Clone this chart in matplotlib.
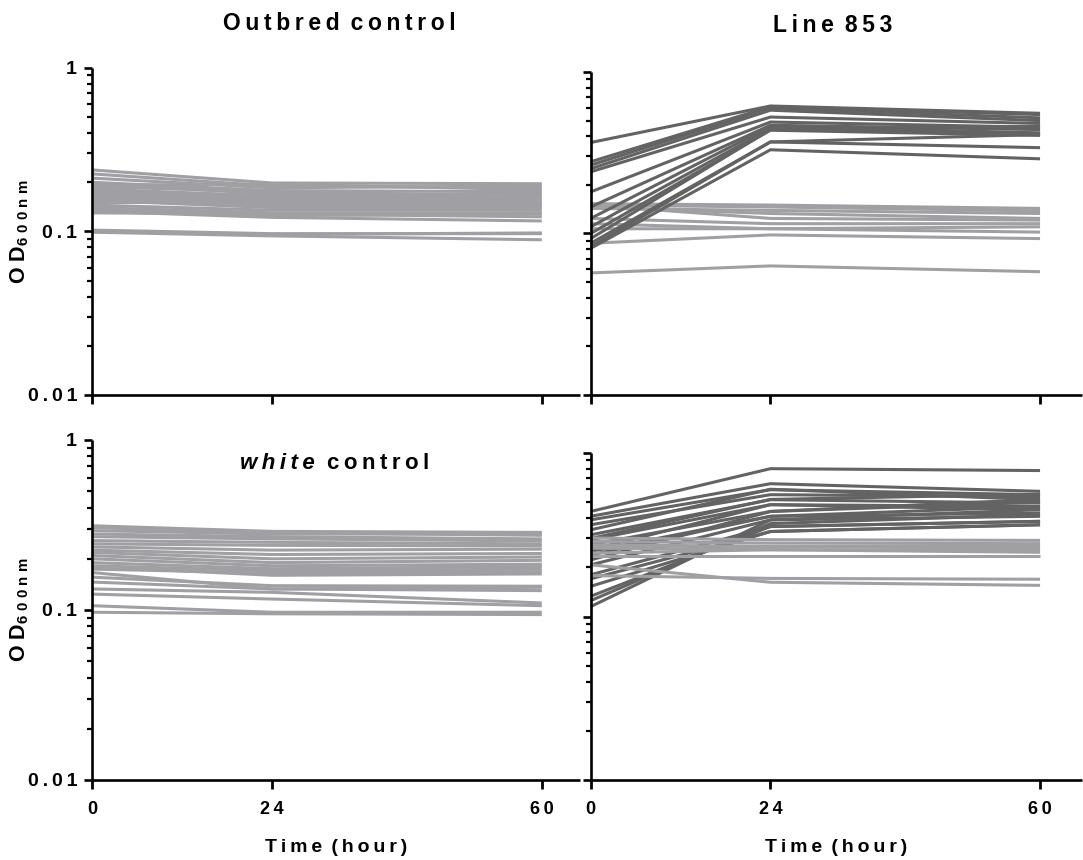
import matplotlib
matplotlib.use("Agg")
import matplotlib.pyplot as plt
from matplotlib.ticker import LogLocator, FixedLocator, FixedFormatter, NullFormatter

# ---------------------------------------------------------------- data
hours = [0, 24, 60]
xtick_labels = ["0", "24", "60"]
ytick_values = [0.01, 0.1, 1]
ytick_labels = ["0.01", "0.1", "1"]

# OD600 per culture at 0, 24 and 60 h
outbred = [
    (0.238, 0.198, 0.196), (0.225, 0.190, 0.185), (0.212, 0.185, 0.190),
    (0.200, 0.178, 0.175), (0.195, 0.170, 0.168), (0.188, 0.175, 0.165),
    (0.182, 0.165, 0.160), (0.176, 0.160, 0.155), (0.170, 0.155, 0.150),
    (0.165, 0.150, 0.148), (0.160, 0.145, 0.143), (0.155, 0.140, 0.140),
    (0.150, 0.152, 0.145), (0.145, 0.135, 0.135), (0.140, 0.130, 0.130),
    (0.137, 0.125, 0.128), (0.133, 0.122, 0.116), (0.130, 0.128, 0.123),
    (0.172, 0.160, 0.170), (0.192, 0.195, 0.180), (0.101, 0.096, 0.098),
    (0.099, 0.094, 0.089), (0.102, 0.097, 0.097),
]

line853_low = [
    (0.153, 0.150, 0.143), (0.150, 0.146, 0.138), (0.146, 0.133, 0.124),
    (0.143, 0.139, 0.133), (0.150, 0.124, 0.121), (0.124, 0.115, 0.115),
    (0.115, 0.107, 0.110), (0.107, 0.107, 0.102), (0.087, 0.098, 0.093),
    (0.057, 0.063, 0.058),
]
line853_high = [
    (0.366, 0.616, 0.555), (0.278, 0.610, 0.545), (0.265, 0.600, 0.520),
    (0.252, 0.580, 0.500), (0.241, 0.526, 0.480), (0.181, 0.490, 0.455),
    (0.146, 0.468, 0.440), (0.124, 0.460, 0.420), (0.110, 0.446, 0.460),
    (0.100, 0.436, 0.405), (0.093, 0.440, 0.415), (0.087, 0.369, 0.410),
    (0.083, 0.369, 0.340), (0.081, 0.330, 0.290),
]

white = [
    (0.313, 0.290, 0.286), (0.305, 0.285, 0.275), (0.293, 0.280, 0.280),
    (0.280, 0.270, 0.262), (0.270, 0.262, 0.255), (0.256, 0.250, 0.245),
    (0.245, 0.240, 0.238), (0.235, 0.225, 0.228), (0.225, 0.212, 0.215),
    (0.218, 0.200, 0.205), (0.209, 0.190, 0.196), (0.200, 0.182, 0.186),
    (0.190, 0.175, 0.180), (0.182, 0.170, 0.174), (0.174, 0.165, 0.168),
    (0.166, 0.133, 0.136), (0.156, 0.139, 0.138), (0.146, 0.133, 0.130),
    (0.133, 0.127, 0.110), (0.124, 0.116, 0.106), (0.106, 0.097, 0.097),
    (0.097, 0.095, 0.094), (0.180, 0.160, 0.163),
]

line853b_high = [
    (0.439, 0.802, 0.781), (0.410, 0.649, 0.583), (0.390, 0.596, 0.556),
    (0.364, 0.556, 0.540), (0.339, 0.600, 0.518), (0.316, 0.518, 0.494),
    (0.295, 0.483, 0.471), (0.275, 0.439, 0.520), (0.256, 0.483, 0.450),
    (0.238, 0.410, 0.429), (0.222, 0.439, 0.500), (0.207, 0.390, 0.410),
    (0.180, 0.355, 0.382), (0.153, 0.331, 0.364), (0.133, 0.355, 0.382),
    (0.115, 0.390, 0.450), (0.250, 0.410, 0.471), (0.300, 0.520, 0.560),
    (0.170, 0.331, 0.364), (0.125, 0.370, 0.420),
]
line853b_low = [
    (0.302, 0.295, 0.292), (0.288, 0.281, 0.279), (0.275, 0.268, 0.268),
    (0.262, 0.256, 0.256), (0.244, 0.256, 0.247), (0.233, 0.233, 0.233),
    (0.207, 0.162, 0.155), (0.178, 0.171, 0.169), (0.270, 0.268, 0.262),
]

# ---------------------------------------------------------------- style
LIGHT = "#a0a0a4"
DARK = "#636363"
FAM = ["Liberation Sans", "DejaVu Sans"]
TS = "\u2009"  # thin space used as letter spacing
WORD_GAP = TS + " "

plt.rcParams["font.family"] = FAM
plt.rcParams["font.weight"] = "bold"
plt.rcParams["mathtext.fontset"] = "custom"
plt.rcParams["mathtext.rm"] = "Liberation Sans:bold"
plt.rcParams["mathtext.bf"] = "Liberation Sans:bold"


def spaced(s):
    """Letter-spaced version of s with a wider gap between words."""
    return WORD_GAP.join(TS.join(word) for word in s.split(" "))


W, H = 1083, 860
fig = plt.figure(figsize=(W / 100, H / 100), dpi=100)


def rect(x0, x1, ytop, ybot):
    return [x0 / W, 1 - ybot / H, (x1 - x0) / W, (ybot - ytop) / H]


ax_tl = fig.add_axes(rect(92.3, 580, 68, 395))
ax_tr = fig.add_axes(rect(590.7, 1082, 72, 395))
ax_bl = fig.add_axes(rect(92.3, 580, 440, 780))
ax_br = fig.add_axes(rect(590.7, 1082, 453, 780))

OD_LABEL = r"$\mathbf{O\;D}_{\mathbf{6\;0\;0\;n\;m}}$"


def style(ax, xmax, show_x, show_y):
    ax.set_yscale("log")
    ax.set_ylim(0.01, 1)
    ax.set_xlim(0, xmax)
    for s in ("top", "right"):
        ax.spines[s].set_visible(False)
    for s in ("left", "bottom"):
        ax.spines[s].set_linewidth(1.9)
        ax.spines[s].set_capstyle("butt")
    ax.xaxis.set_major_locator(FixedLocator(hours))
    ax.yaxis.set_major_locator(FixedLocator(ytick_values))
    ax.yaxis.set_minor_locator(LogLocator(base=10, subs=range(2, 10)))
    ax.yaxis.set_minor_formatter(NullFormatter())
    ax.tick_params(axis="x", which="major", direction="out", length=6.5,
                   width=2.0, pad=8.5, labelsize=13)
    ax.tick_params(axis="y", which="major", direction="out", length=6,
                   width=1.9, pad=5, labelsize=14)
    ax.tick_params(axis="y", which="minor", direction="out", length=3.5,
                   width=1.6)
    if show_x:
        ax.xaxis.set_major_formatter(FixedFormatter([spaced(t) for t in xtick_labels]))
        ax.set_xlabel(spaced("Time (hour)"), fontsize=14, fontweight="bold",
                      labelpad=15)
    else:
        ax.xaxis.set_major_formatter(NullFormatter())
    if show_y:
        ax.yaxis.set_major_formatter(FixedFormatter([spaced(t) for t in ytick_labels]))
        ax.set_ylabel(OD_LABEL, fontsize=15.5)
        ax.yaxis.set_label_coords(-0.125, 0.5)
    else:
        ax.yaxis.set_major_formatter(NullFormatter())


def draw(ax, series, color):
    for vals in series:
        ax.plot(hours, vals, color=color, lw=2.2, solid_capstyle="butt",
                solid_joinstyle="miter", clip_on=False)


draw(ax_tl, outbred, LIGHT)
draw(ax_tr, line853_low, LIGHT)
draw(ax_tr, line853_high, DARK)
draw(ax_bl, white, LIGHT)
draw(ax_br, line853b_high, DARK)
draw(ax_br, line853b_low, LIGHT)

style(ax_tl, 65.1, False, True)
style(ax_tr, 65.6, False, False)
style(ax_bl, 65.1, True, True)
style(ax_br, 65.6, True, False)

title_kw = dict(fontsize=16.5, fontweight="bold", ha="center", va="center")
fig.text(339 / W, 1 - 23 / H, spaced("Outbred control"), **title_kw)
fig.text(833 / W, 1 - 26 / H, spaced("Line 853"), **title_kw)

# panel label inside the lower-left axes
ax_bl.text(0.456, 0.73, spaced("white"), transform=ax_bl.get_yaxis_transform(),
           fontsize=16, fontweight="bold", fontstyle="italic", ha="right", va="center")
ax_bl.text(0.482, 0.73, spaced("control"), transform=ax_bl.get_yaxis_transform(),
           fontsize=16, fontweight="bold", ha="left", va="center")

fig.savefig("out.png", dpi=100)
